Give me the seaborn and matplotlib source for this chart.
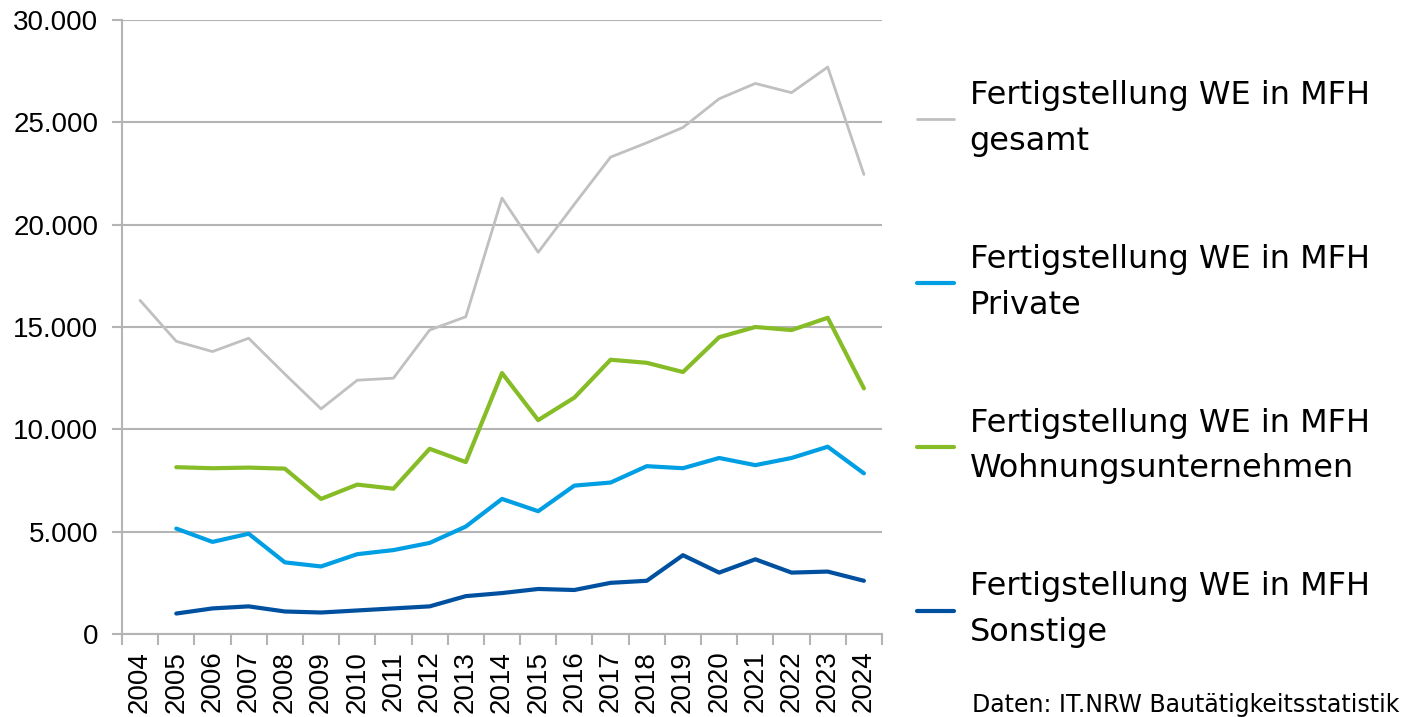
import numpy as np
import pandas as pd
import matplotlib
matplotlib.use("Agg")
import matplotlib.pyplot as plt
from matplotlib.ticker import FuncFormatter, FixedLocator
import seaborn as sns

years = list(range(2004, 2025))
gesamt = [16300, 14300, 13800, 14450, 12700, 11000, 12400, 12500, 14850, 15500,
          21300, 18650, 21000, 23300, 24000, 24750, 26150, 26900, 26450, 27700, 22450]
private = [None, 5150, 4500, 4900, 3500, 3300, 3900, 4100, 4450, 5250,
           6600, 6000, 7250, 7400, 8200, 8100, 8600, 8250, 8600, 9150, 7850]
wohnung = [None, 8150, 8100, 8130, 8080, 6600, 7300, 7100, 9050, 8400,
           12750, 10450, 11550, 13400, 13250, 12800, 14500, 15000, 14850, 15450, 12000]
sonstige = [None, 1000, 1250, 1350, 1100, 1050, 1150, 1250, 1350, 1850,
            2000, 2200, 2150, 2500, 2600, 3850, 3000, 3650, 3000, 3050, 2600]

labels = ["Fertigstellung WE in MFH\ngesamt",
          "Fertigstellung WE in MFH\nPrivate",
          "Fertigstellung WE in MFH\nWohnungsunternehmen",
          "Fertigstellung WE in MFH\nSonstige"]
series = [gesamt, private, wohnung, sonstige]
colors = ["#c0c0c0", "#009fe3", "#86bc25", "#0050a0"]
widths = [2.0, 3.0, 3.0, 3.0]
source = "Daten: IT.NRW Bautätigkeitsstatistik"

sns.set_style("white")
plt.rcParams['font.family'] = ['Liberation Sans', 'DejaVu Sans']
plt.rcParams['text.color'] = 'black'

fig = plt.figure(figsize=(14.16, 7.17), dpi=100)
ax = fig.add_axes([122/1416, 1-634/717, (882-122)/1416, (634-20)/717])

pos = np.arange(len(years))
handles = []
for vals, lab, col, lw in zip(series, labels, colors, widths):
    df = pd.DataFrame({"x": pos, "y": pd.to_numeric(pd.Series(vals), errors="coerce")})
    sns.lineplot(data=df.dropna(), x="x", y="y", ax=ax, color=col, linewidth=lw,
                 solid_capstyle="round", solid_joinstyle="round")
    handles.append(ax.lines[-1])

ax.set_xlim(-0.5, len(years) - 0.5)
ax.set_ylim(0, 30000)
ax.set_xlabel("")
ax.set_ylabel("")

gridc = "#b4b4b4"
ax.set_yticks(np.arange(0, 30001, 5000))
ax.yaxis.set_major_formatter(FuncFormatter(lambda v, p: f"{int(v):,}".replace(",", ".")))
ax.grid(axis="y", color=gridc, linewidth=1.5)
ax.grid(axis="x", visible=False)
ax.set_axisbelow(True)
for s in ["top", "right"]:
    ax.spines[s].set_visible(False)
for s in ["left", "bottom"]:
    ax.spines[s].set_color(gridc)
    ax.spines[s].set_linewidth(1.5)

ax.set_xticks(pos)
ax.set_xticklabels([str(y) for y in years], rotation=90)
ax.xaxis.set_minor_locator(FixedLocator(np.arange(-0.5, len(years), 1.0)))
ax.tick_params(axis="x", which="major", length=0, pad=12, labelsize=20, labelcolor="black")
ax.tick_params(axis="x", which="minor", length=8, width=1.5, color=gridc, bottom=True)
ax.tick_params(axis="y", which="major", length=7, width=1.5, color=gridc, left=True,
               labelsize=20, pad=10, labelcolor="black")

leg = fig.legend(handles, labels, loc="upper left", bbox_to_anchor=(917/1416, 1-80/717),
                 bbox_transform=fig.transFigure, frameon=False, borderpad=0,
                 borderaxespad=0, handlelength=1.15, handletextpad=0.5,
                 labelspacing=2.72, prop={"family": "DejaVu Sans", "size": 23})
for t in leg.get_texts():
    t.set_linespacing(1.62)
    t.set_color("black")

fig.text(972/1416, 1-712/717, source, ha="left", va="baseline",
         fontsize=17, family="DejaVu Sans", color="black")

fig.savefig("out.png", dpi=100)
